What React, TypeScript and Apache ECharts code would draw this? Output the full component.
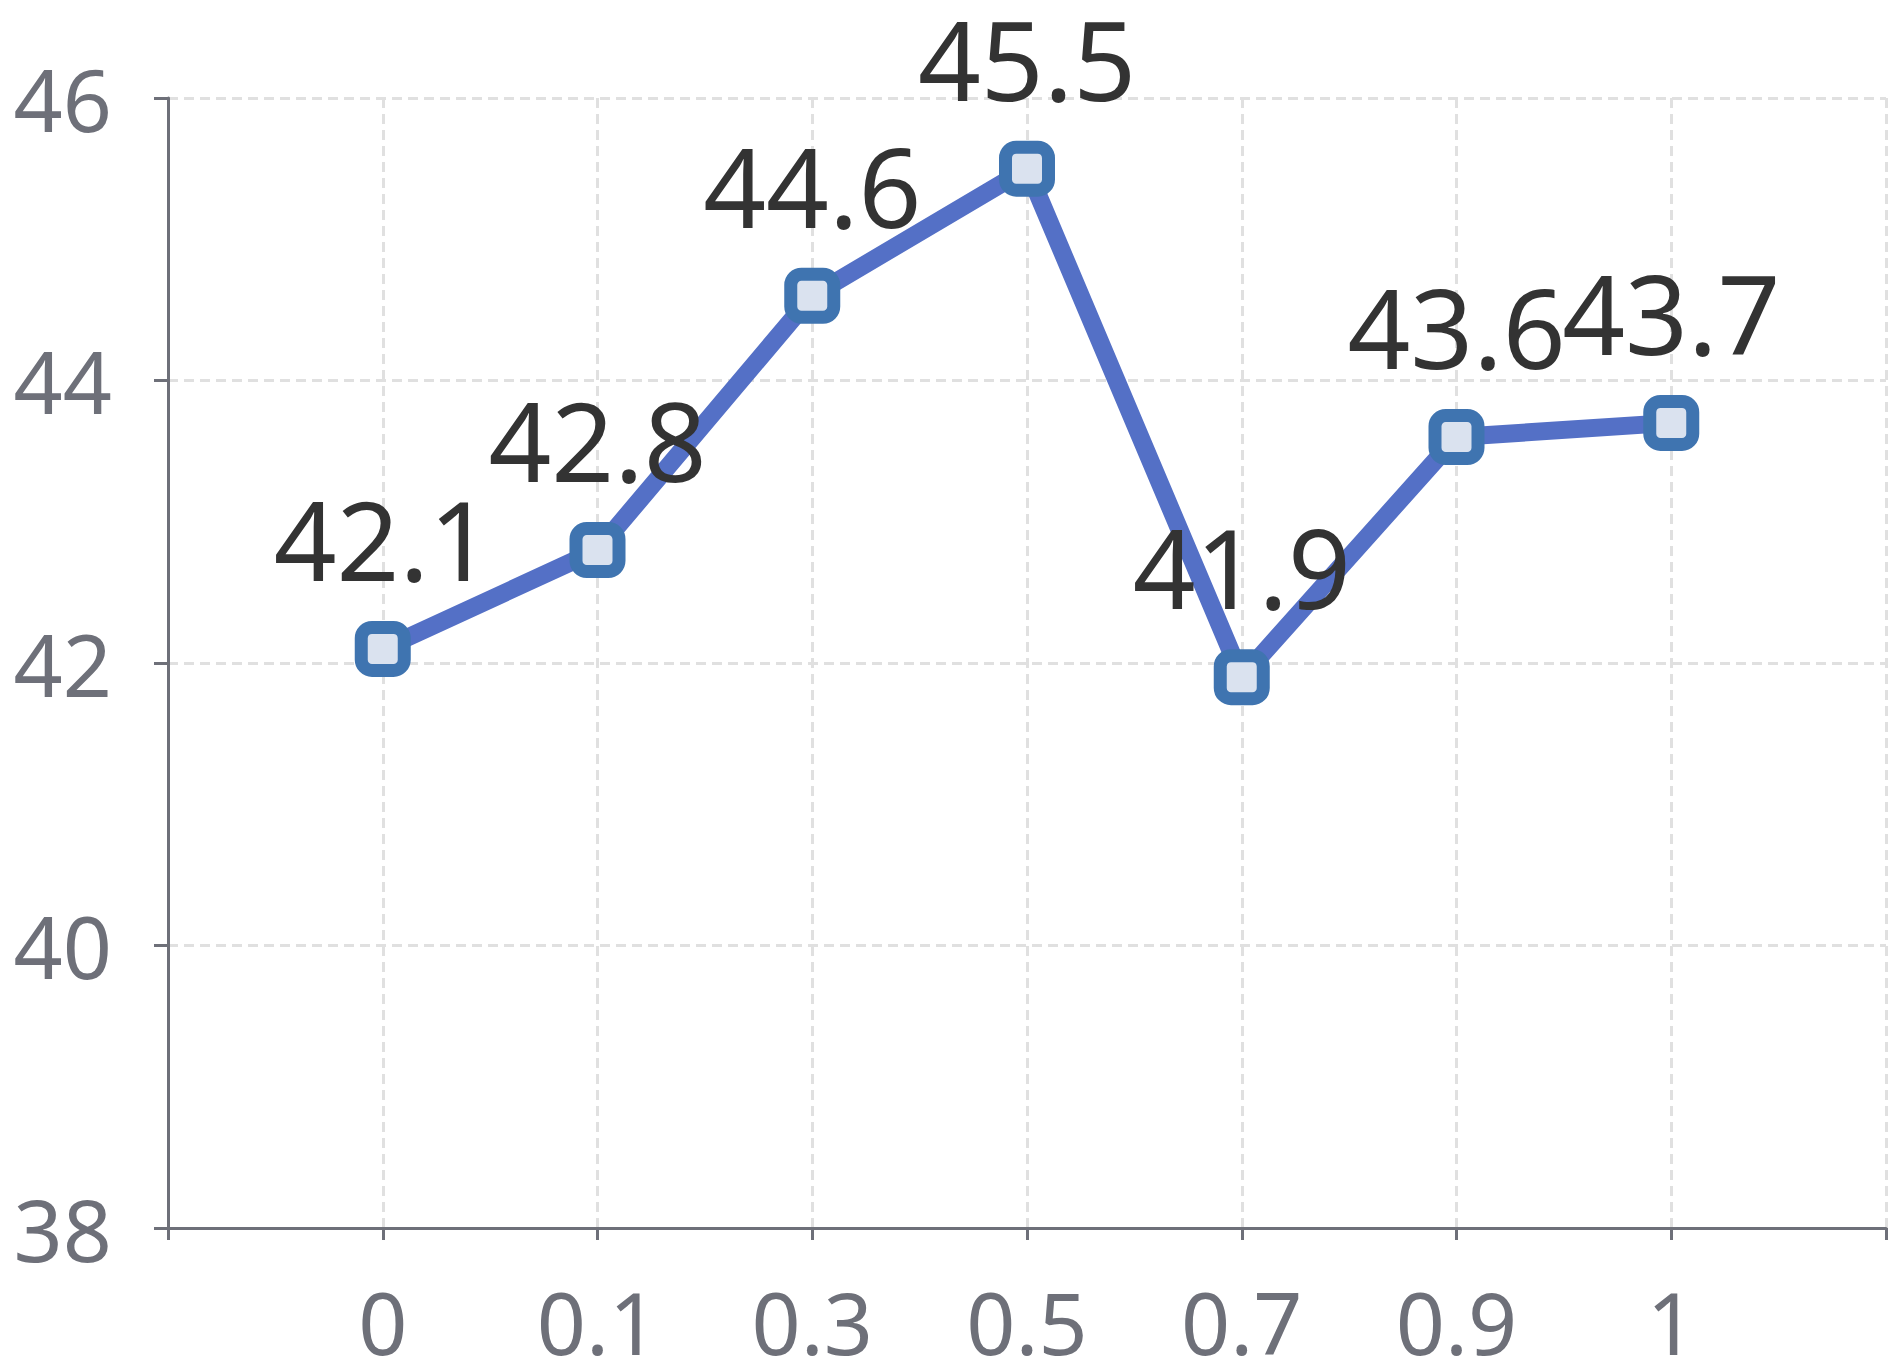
import React, { useEffect, useRef } from "react";
import * as echarts from "echarts";

const categories = ["", "0", "0.1", "0.3", "0.5", "0.7", "0.9", "1", ""];
const values: (number | string)[] = ["-", 42.1, 42.8, 44.6, 45.5, 41.9, 43.6, 43.7, "-"];
const yMin = 38;
const yMax = 46;
const yInterval = 2;

const FONT = "'Noto Sans', 'Open Sans', sans-serif";

export default function App() {
  const ref = useRef<HTMLDivElement>(null);
  useEffect(() => {
    document.body.style.margin = "0";
    const chart = echarts.init(ref.current!, undefined, { renderer: "svg" });
    chart.setOption({
      animation: false,
      backgroundColor: "#ffffff",
      grid: { left: 168, right: 18, top: 98, bottom: 144, containLabel: false },
      xAxis: {
        type: "category",
        data: categories,
        boundaryGap: false,
        axisLine: { show: true, lineStyle: { color: "#6e7079", width: 3 } },
        axisTick: { show: true, length: 12, interval: 0, lineStyle: { color: "#6e7079", width: 3 } },
        axisLabel: {
          interval: 0,
          margin: 50,
          fontSize: 86,
          lineHeight: 86,
          color: "#6e7079",
          fontFamily: FONT,
        },
        splitLine: {
          show: true,
          interval: 0,
          lineStyle: { color: "#e0e0e0", width: 3, type: [10, 6] },
        },
      },
      yAxis: {
        type: "value",
        min: yMin,
        max: yMax,
        interval: yInterval,
        axisLine: { show: true, lineStyle: { color: "#6e7079", width: 3 } },
        axisTick: { show: true, length: 14, lineStyle: { color: "#6e7079", width: 3 } },
        axisLabel: {
          margin: 56,
          fontSize: 86,
          color: "#6e7079",
          fontFamily: FONT,
        },
        splitLine: {
          show: true,
          lineStyle: { color: "#e0e0e0", width: 3, type: [10, 6] },
        },
      },
      series: [
        {
          type: "line",
          data: values,
          symbol: "roundRect",
          symbolSize: 43,
          lineStyle: { color: "#5470c6", width: 18 },
          itemStyle: { color: "#dae2ef", borderColor: "#3f74b0", borderWidth: 13 },
          label: {
            show: true,
            position: "top",
            distance: 28,
            fontSize: 110,
            color: "#333333",
            fontFamily: FONT,
          },
        },
      ],
    });
    return () => chart.dispose();
  }, []);
  return (
    <div
      ref={ref}
      style={{ position: "absolute", left: 0, top: 0, width: 1904, height: 1372 }}
    />
  );
}
